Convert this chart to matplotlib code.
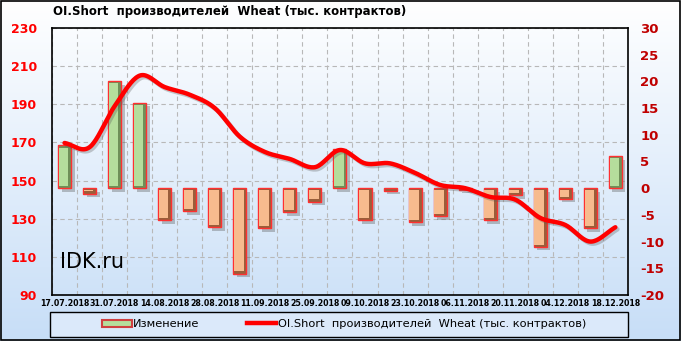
import numpy as np
import matplotlib.pyplot as plt
import matplotlib.patheffects as pe
from matplotlib.patches import Rectangle, Patch
from matplotlib.lines import Line2D

plt.rcParams['axes.unicode_minus'] = False

dates = ['17.07.2018', '24.07.2018', '31.07.2018', '07.08.2018', '14.08.2018',
         '21.08.2018', '28.08.2018', '04.09.2018', '11.09.2018', '18.09.2018',
         '25.09.2018', '02.10.2018', '09.10.2018', '16.10.2018', '23.10.2018',
         '30.10.2018', '06.11.2018', '13.11.2018', '20.11.2018', '27.11.2018',
         '04.12.2018', '11.12.2018', '18.12.2018']

# weekly change, thousand contracts (right axis)
change = [8.0, -1.0, 20.0, 16.0, -6.0, -4.3, -7.3, -16.0, -7.5, -4.5, -2.5, 7.3,
          -6.0, -0.5, -6.4, -5.3, -0.3, -6.0, -1.3, -11.0, -2.0, -7.5, 6.0]

# OI short of producers (left axis)
oi_short = [169.7, 167.5, 189.0, 205.0, 199.0, 195.0, 188.0, 173.0, 165.0, 161.3,
            157.0, 166.0, 159.0, 159.0, 154.0, 147.7, 146.0, 141.4, 140.0, 130.4,
            126.7, 118.0, 125.5]

title = 'OI.Short  производителей  Wheat (тыс. контрактов)'
legend_bar = 'Изменение'
legend_line = 'OI.Short  производителей  Wheat (тыс. контрактов)'


def smooth(x, y, n=20):
    # catmull-rom curve through the points, like excel's "smoothed line"
    x = np.asarray(x, float)
    y = np.asarray(y, float)
    px = np.concatenate([[2 * x[0] - x[1]], x, [2 * x[-1] - x[-2]]])
    py = np.concatenate([[2 * y[0] - y[1]], y, [2 * y[-1] - y[-2]]])
    t = np.linspace(0, 1, n, endpoint=False)
    xs, ys = [], []
    for i in range(1, len(px) - 2):
        for p, out in ((px, xs), (py, ys)):
            p0, p1, p2, p3 = p[i - 1], p[i], p[i + 1], p[i + 2]
            out.extend(0.5 * (2 * p1 + (-p0 + p2) * t + (2 * p0 - 5 * p1 + 4 * p2 - p3) * t ** 2
                              + (-p0 + 3 * p1 - 3 * p2 + p3) * t ** 3))
    xs.append(x[-1])
    ys.append(y[-1])
    return np.array(xs), np.array(ys)


fig = plt.figure(figsize=(6.81, 3.41), dpi=100)

# background gradient
bg = fig.add_axes([0, 0, 1, 1], zorder=-10)
grad = np.linspace(0, 1, 256).reshape(-1, 1)
top = np.array([1.0, 1.0, 1.0])
bottom = np.array([0.78, 0.87, 0.97])
img = top + (bottom - top) * grad[:, :, None]
bg.imshow(img, aspect='auto', extent=[0, 1, 0, 1])
bg.axis('off')
fig.patches.append(Rectangle((0.001, 0.002), 0.997, 0.995, transform=fig.transFigure,
                             fill=False, edgecolor='black', linewidth=1.2))

pos = [0.0764, 0.135, 0.922 - 0.0764, 0.918 - 0.135]
x = np.arange(len(dates))

# left axis, grid
ax = fig.add_axes(pos)
ax.set_facecolor('none')
ax.set_xlim(-0.5, len(dates) - 0.5)
ax.set_ylim(90, 230)
ax.set_yticks(np.arange(90, 231, 20))
ax.set_xticks(x[::2])
ax.set_xticklabels(dates[::2], fontsize=5.7, fontweight='bold')
ax.set_xticks(np.arange(-0.5, len(dates), 1), minor=True)
ax.tick_params(axis='x', which='both', length=0, pad=3)
ax.tick_params(axis='y', length=0, pad=11, labelcolor='#ff0000', labelsize=9)
for lab in ax.get_yticklabels():
    lab.set_fontweight('bold')
ax.grid(True, axis='y', which='major', linestyle=(0, (4, 3)), color='#b8b8b8', linewidth=0.8)
ax.grid(True, axis='x', which='minor', linestyle=(0, (4, 3)), color='#b8b8b8', linewidth=0.8)
for s in ax.spines.values():
    s.set_color('black')
    s.set_linewidth(1.2)

# right axis, bars
ax2 = ax.twinx()
ax2.set_ylim(-20, 30)
ax2.set_yticks(np.arange(-20, 31, 5))
ax2.tick_params(axis='y', length=0, pad=9, labelcolor='#c00000', labelsize=9.5)
for lab in ax2.get_yticklabels():
    lab.set_fontweight('bold')

change = np.array(change)
up = change >= 0
dark = np.where(up, '#6f8f58', '#9a5e3a')
light = np.where(up, '#b5dd9c', '#f7bb8e')
shadow = [pe.SimplePatchShadow(offset=(2.5, -2.5), shadow_rgbFace='#555555', alpha=0.35), pe.Normal()]
bars = ax2.bar(x, change, width=0.52, color=dark, edgecolor='#ff3030', linewidth=1.0, zorder=2)
for b in bars:
    b.set_path_effects(shadow)
inset = 0.4
inner_h = np.sign(change) * np.maximum(np.abs(change) - 2 * inset, 0)
ax2.bar(x - 0.04, inner_h, bottom=np.sign(change) * inset, width=0.38, color=light,
        linewidth=0, zorder=3)
for s in ax2.spines.values():
    s.set_visible(False)

# line, left scale
ax3 = ax.twinx()
ax3.set_ylim(90, 230)
ax3.axis('off')
sx, sy = smooth(x, oi_short)
ax3.plot(sx, sy, color='#ff0000', linewidth=3.2, solid_capstyle='round', zorder=5,
         path_effects=[pe.SimpleLineShadow(offset=(1.5, -1.5), shadow_color='#555555', alpha=0.3),
                       pe.Normal()])

fig.text(0.078, 0.965, title, fontsize=8.5, fontweight='bold', ha='left', va='center')
ax.text(0.013, 0.085, 'IDK.ru', transform=ax.transAxes, fontsize=15, ha='left', va='bottom')

# legend box
fig.patches.append(Rectangle((0.0735, 0.012), 0.849, 0.073, transform=fig.transFigure,
                             facecolor='#dbe9fa', edgecolor='black', linewidth=1.0))
handles = [Patch(facecolor='#b5dd9c', edgecolor='#d04040', linewidth=1.5),
           Line2D([], [], color='#ff0000', linewidth=3.2)]
fig.legend(handles, [legend_bar, legend_line], loc='center', bbox_to_anchor=(0.505, 0.049),
           ncol=2, frameon=False, fontsize=8.2, handlelength=2.6, handleheight=0.6,
           columnspacing=4.2, handletextpad=0.1)

fig.savefig('out.png', dpi=100)
